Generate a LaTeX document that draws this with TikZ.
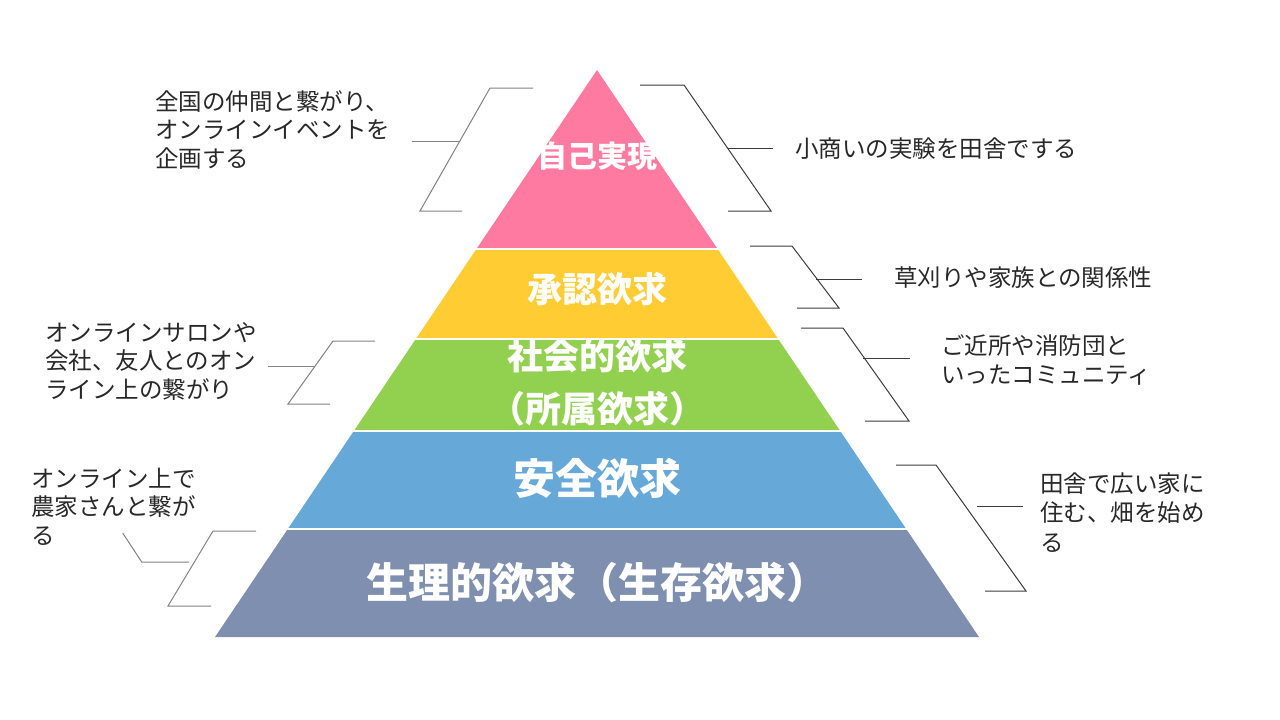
\documentclass[tikz,border=0pt]{standalone}
\usepackage{fontspec}
\newfontfamily\jp{Noto Sans CJK JP}
\definecolor{cpink}{RGB}{255,122,160}
\definecolor{cyellow}{RGB}{255,204,51}
\definecolor{cgreen}{RGB}{146,208,80}
\definecolor{cblue}{RGB}{102,168,216}
\definecolor{cslate}{RGB}{127,143,176}
\definecolor{lgray}{RGB}{130,130,130}
\definecolor{ldark}{RGB}{60,60,60}
\definecolor{ctext}{RGB}{40,40,40}
\tikzset{
  layertext/.style={text=white,inner sep=0pt,font=\jp\bfseries\fontsize{#1}{#1}\selectfont},
  note/.style={text=ctext,inner sep=0pt,anchor=base west,font=\jp\fontsize{23.5}{28.5}\selectfont},
  lbr/.style={draw=lgray,line width=1pt},
  rbr/.style={draw=ldark,line width=1pt},
  sep/.style={draw=white,line width=2pt}
}
\begin{document}
\begin{tikzpicture}[x=1pt,y=-1pt]
\useasboundingbox (0,0) rectangle (1280,720);
% pyramid layers
\fill[cpink] (597,70) -- (717.6,249) -- (476.4,249) -- cycle;
\fill[cyellow] (476.4,249) -- (717.6,249) -- (778.2,339) -- (415.8,339) -- cycle;
\fill[cgreen] (415.8,339) -- (778.2,339) -- (840.2,431) -- (353.8,431) -- cycle;
\fill[cblue] (353.8,431) -- (840.2,431) -- (906.2,529) -- (287.8,529) -- cycle;
\fill[cslate] (287.8,529) -- (906.2,529) -- (979,637) -- (215,637) -- cycle;
\draw[sep] (470,249) -- (724,249);
\draw[sep] (410,339) -- (784,339);
\draw[sep] (348,431) -- (846,431);
\draw[sep] (282,529) -- (912,529);
% layer texts
\node[layertext=30] (l1) at (597,156) {自己実現};
\node[layertext=35] (l2) at (597,289) {承認欲求};
\node[layertext=36] (l3a) at (597,356) {社会的欲求};
\node[layertext=36] (l3b) at (597,409) {（所属欲求）};
\node[layertext=42] (l4) at (597,478) {安全欲求};
\node[layertext=42] (l5) at (597,582) {生理的欲求（生存欲求）};
% right brackets
\draw[rbr] (640,85) -- (684,85) -- (771,211) -- (728,211);
\draw[rbr] (727.5,148) -- (773,148);
\draw[rbr] (750,246) -- (792,246) -- (839,308) -- (797,308);
\draw[rbr] (816,279) -- (862,279);
\draw[rbr] (801,328) -- (843,328) -- (909,421) -- (865,421);
\draw[rbr] (863,358) -- (910,358);
\draw[rbr] (896,465) -- (936,465) -- (1026,591) -- (985,591);
\draw[rbr] (977,506) -- (1023,506);
% left brackets
\draw[lbr] (533,88) -- (490,88) -- (420,211) -- (462,211);
\draw[lbr] (460,141) -- (412,141);
\draw[lbr] (375,341) -- (333,341) -- (288,404) -- (330,404);
\draw[lbr] (315,366) -- (268,366);
\draw[lbr] (256,531) -- (213,531) -- (168,606) -- (211,606);
\draw[lbr] (189,562) -- (141.7,562) -- (122.7,533);
% notes
\node[note] (tl1) at (155,110) {全国の仲間と繋がり、};
\node[note] (tl2) at (155,138.5) {オンラインイベントを};
\node[note] (tl3) at (155,167) {企画する};
\node[note] (r1) at (795,157) {小商いの実験を田舎でする};
\node[note] (r2) at (894,286) {草刈りや家族との関係性};
\node[note] (r3a) at (941,354) {ご近所や消防団と};
\node[note] (r3b) at (941,383) {いったコミュニティ};
\node[note] (ml1) at (45,341) {オンラインサロンや};
\node[note] (ml2) at (45,369.5) {会社、友人とのオン};
\node[note] (ml3) at (45,398) {ライン上の繋がり};
\node[note] (bl1) at (31,487) {オンライン上で};
\node[note] (bl2) at (31,515.5) {農家さんと繋が};
\node[note] (bl3) at (31,544) {る};
\node[note] (br1) at (1040,492) {田舎で広い家に};
\node[note] (br2) at (1040,521.5) {住む、畑を始め};
\node[note] (br3) at (1040,551) {る};
\end{tikzpicture}
\end{document}
